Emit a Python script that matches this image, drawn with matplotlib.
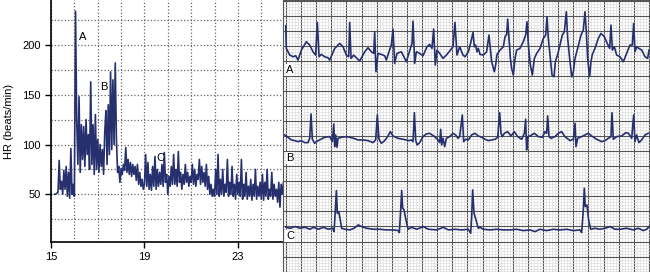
import matplotlib.pyplot as plt
import numpy as np

plt.rcParams['font.family'] = ['Liberation Sans', 'DejaVu Sans']

# heart rate trend, one sample every 0.05 h from 15.15 h
hr_start = 15.15
hr_step = 0.05
hr = [50, 50, 51, 52, 84, 55, 63, 50, 74, 55, 78, 48, 72, 46, 96, 50, 60, 48, 234, 125,
      80, 148, 72, 120, 85, 118, 78, 125, 90, 110, 75, 163, 80, 120, 70, 130, 75, 105, 72, 100,
      78, 95, 70, 112, 134, 80, 140, 90, 173, 95, 165, 100, 182, 105, 72, 78, 62, 76, 70, 80,
      74, 97, 72, 85, 70, 82, 68, 80, 70, 78, 64, 80, 60, 72, 58, 65, 55, 60, 90, 58,
      82, 55, 70, 54, 78, 58, 88, 55, 75, 58, 72, 60, 80, 58, 92, 62, 70, 50, 68, 58,
      78, 60, 90, 60, 75, 58, 93, 62, 72, 55, 70, 60, 80, 62, 72, 58, 68, 62, 80, 60,
      75, 58, 70, 65, 85, 60, 78, 62, 72, 58, 80, 55, 68, 50, 60, 48, 55, 48, 75, 50,
      90, 48, 65, 50, 75, 48, 60, 52, 85, 48, 62, 50, 78, 48, 60, 45, 70, 50, 62, 48,
      85, 45, 60, 48, 72, 45, 58, 48, 65, 44, 60, 48, 75, 45, 58, 48, 62, 45, 70, 44,
      62, 48, 75, 45, 55, 48, 72, 45, 60, 48, 55, 42, 62, 37, 60, 50, 62]

hr_xticks = [15, 19, 23]
hr_yticks = [50, 100, 150, 200]

# ECG strips: (time s, amplitude mV relative to strip baseline)
ecg_a = [(-0.004, 0.908), (0.004, 0.155), (0.049, -0.066), (0.093, -0.122), (0.128, -0.089),
         (0.159, -0.233), (0.203, 0.100), (0.269, 0.377), (0.313, 0.266), (0.357, 0.044),
         (0.392, -0.066), (0.414, 1.019), (0.437, -0.122), (0.467, -0.044), (0.511, -0.122),
         (0.556, -0.155), (0.578, -0.233), (0.644, 0.155), (0.710, 0.321), (0.754, 0.210),
         (0.798, -0.066), (0.829, -0.122), (0.842, 1.019), (0.860, -0.177), (0.895, -0.066),
         (0.930, -0.155), (0.974, -0.266), (1.041, 0.044), (1.085, 0.177), (1.129, 0.044),
         (1.160, -0.011), (1.173, 0.709), (1.190, -0.620), (1.217, -0.011), (1.261, -0.044),
         (1.305, -0.089), (1.327, -0.233), (1.362, 0.044), (1.393, 0.266), (1.415, 0.797),
         (1.437, -0.343), (1.468, -0.011), (1.526, 0.044), (1.592, -0.288), (1.645, 0.155),
         (1.667, 0.321), (1.680, 1.063), (1.702, -0.343), (1.724, 0.044), (1.768, -0.011),
         (1.812, -0.089), (1.865, 0.210), (1.900, 0.288), (1.931, 0.155), (1.953, 0.797),
         (1.975, -0.399), (1.997, 0.100), (2.033, -0.011), (2.077, -0.177), (2.121, -0.066),
         (2.165, 0.066), (2.209, 0.210), (2.235, 1.019), (2.262, -0.066), (2.297, 0.210),
         (2.341, -0.066), (2.368, -0.122), (2.412, 0.044), (2.447, 0.377), (2.474, 0.687),
         (2.491, 0.210), (2.509, 0.266), (2.526, 0.044), (2.544, 0.155), (2.566, -0.044),
         (2.610, -0.066), (2.654, 0.044), (2.685, 0.598), (2.703, 0.155), (2.720, -0.288),
         (2.756, -0.620), (2.773, -0.399), (2.791, -0.044), (2.831, 0.100), (2.875, 0.210),
         (2.897, 0.543), (2.919, 0.620), (2.932, 1.130), (2.950, 0.487), (2.968, -0.177),
         (2.985, -0.509), (3.007, -0.731), (3.029, -0.177), (3.051, 0.100), (3.095, 0.155),
         (3.139, 0.377), (3.170, 0.598), (3.188, 1.041), (3.206, 0.266), (3.232, -0.399),
         (3.258, -0.731), (3.285, -0.177), (3.316, -0.011), (3.360, 0.155), (3.404, 0.487),
         (3.435, 0.598), (3.452, 1.207), (3.470, 0.487), (3.492, -0.066), (3.519, -0.731),
         (3.545, -0.786), (3.563, -0.288), (3.594, -0.044), (3.624, 0.266), (3.655, 0.598),
         (3.682, 0.709), (3.708, 1.373), (3.726, 0.487), (3.752, -0.177), (3.779, -0.786),
         (3.801, -0.620), (3.823, -0.177), (3.858, 0.155), (3.902, 0.598), (3.933, 0.764),
         (3.955, 1.373), (3.973, 0.709), (3.990, -0.177), (4.016, -0.786), (4.034, -0.288),
         (4.052, -0.044), (4.087, 0.155), (4.131, 0.487), (4.167, 0.653), (4.211, 0.543),
         (4.255, 0.288), (4.281, 0.155), (4.299, 0.930), (4.317, 0.100), (4.343, 0.210),
         (4.374, -0.066), (4.418, -0.122), (4.462, -0.288), (4.506, -0.011), (4.550, 0.266),
         (4.581, 0.266), (4.599, 0.986), (4.616, 0.044), (4.638, 0.210), (4.669, 0.155),
         (4.705, 0.100), (4.749, -0.122), (4.784, -0.177), (4.802, 0.100)]

ecg_b = [(-0.018, 0.100), (0.026, 0.022), (0.071, -0.066), (0.115, -0.089), (0.159, -0.122),
         (0.203, -0.089), (0.247, -0.155), (0.291, -0.155), (0.313, -0.011), (0.331, 0.797),
         (0.348, -0.044), (0.379, -0.177), (0.401, -0.122), (0.445, -0.066), (0.511, 0.022),
         (0.578, 0.044), (0.613, -0.122), (0.631, 0.465), (0.644, -0.288), (0.657, 0.100),
         (0.675, -0.310), (0.688, -0.011), (0.732, 0.022), (0.798, 0.044), (0.842, 0.022),
         (0.895, -0.011), (0.952, -0.066), (1.019, -0.066), (1.085, -0.089), (1.151, -0.155),
         (1.186, -0.066), (1.208, 0.764), (1.230, -0.044), (1.261, -0.177), (1.305, -0.089),
         (1.349, 0.066), (1.380, 0.210), (1.415, 0.066), (1.481, -0.011), (1.548, -0.044),
         (1.627, -0.089), (1.658, -0.066), (1.680, -0.122), (1.698, 0.842), (1.715, -0.066),
         (1.733, -0.233), (1.768, -0.155), (1.812, 0.044), (1.856, 0.133), (1.900, 0.155),
         (1.966, 0.044), (2.011, -0.066), (2.033, -0.155), (2.046, 0.288), (2.059, -0.233),
         (2.077, -0.011), (2.099, -0.288), (2.121, -0.011), (2.165, 0.044), (2.209, 0.155),
         (2.244, 0.100), (2.275, -0.011), (2.297, 0.044), (2.332, 0.764), (2.350, -0.122),
         (2.377, -0.044), (2.412, -0.066), (2.456, 0.100), (2.500, 0.155), (2.544, 0.066),
         (2.588, 0.022), (2.632, -0.044), (2.676, -0.089), (2.720, -0.066), (2.765, -0.044),
         (2.800, 0.022), (2.817, 0.543), (2.826, 0.842), (2.844, 0.155), (2.862, 0.044),
         (2.888, 0.155), (2.932, 0.210), (2.976, 0.066), (3.020, 0.210), (3.064, 0.044),
         (3.117, -0.044), (3.153, 0.155), (3.170, 0.620), (3.183, -0.399), (3.197, 0.044),
         (3.228, 0.066), (3.285, 0.155), (3.338, 0.044), (3.391, 0.022), (3.426, 0.210),
         (3.448, 0.155), (3.461, 0.731), (3.479, 0.044), (3.505, -0.011), (3.558, 0.044),
         (3.602, 0.155), (3.646, 0.210), (3.690, 0.044), (3.757, -0.089), (3.801, -0.044),
         (3.823, 0.487), (3.836, -0.288), (3.858, -0.011), (3.911, 0.044), (3.955, 0.100),
         (3.999, 0.155), (4.043, 0.066), (4.109, -0.044), (4.176, -0.122), (4.220, -0.089),
         (4.264, -0.011), (4.299, 0.044), (4.312, 0.842), (4.330, -0.044), (4.374, 0.044),
         (4.441, 0.066), (4.494, 0.177), (4.529, 0.155), (4.573, -0.011), (4.599, 0.764),
         (4.616, -0.122), (4.638, 0.100), (4.669, -0.155), (4.705, -0.066), (4.749, 0.100),
         (4.793, 0.155)]

ecg_c = [(0.000, 0.033), (0.053, 0.000), (0.119, 0.055), (0.185, 0.000), (0.251, 0.033),
         (0.317, -0.033), (0.362, 0.033), (0.428, -0.033), (0.494, 0.033), (0.560, -0.033),
         (0.617, 0.000), (0.635, -0.111), (0.653, 0.609), (0.666, 1.251), (0.679, 0.498),
         (0.697, 0.554), (0.714, 0.332), (0.736, 0.000), (0.780, -0.033), (0.847, -0.055),
         (0.899, 0.000), (0.957, 0.111), (1.001, 0.055), (1.067, 0.000), (1.155, -0.033),
         (1.243, -0.033), (1.332, -0.055), (1.420, -0.055), (1.486, -0.078), (1.499, -0.144),
         (1.517, 0.609), (1.530, 1.251), (1.543, 0.664), (1.561, 0.609), (1.587, 0.277),
         (1.614, -0.033), (1.662, 0.033), (1.728, -0.033), (1.817, 0.055), (1.883, -0.033),
         (1.993, -0.055), (2.081, 0.033), (2.147, -0.055), (2.235, -0.033), (2.324, -0.055),
         (2.412, -0.033), (2.443, -0.166), (2.456, 0.388), (2.469, 1.274), (2.487, 0.498),
         (2.513, 0.277), (2.544, 0.000), (2.566, 0.033), (2.610, -0.033), (2.698, -0.055),
         (2.787, -0.033), (2.875, -0.055), (2.963, -0.055), (3.051, -0.033), (3.139, -0.078),
         (3.228, -0.055), (3.294, -0.111), (3.360, -0.033), (3.448, -0.078), (3.536, -0.033),
         (3.624, -0.055), (3.713, -0.033), (3.801, -0.078), (3.889, -0.055), (3.911, -0.144),
         (3.933, 0.609), (3.946, 1.329), (3.959, 0.720), (3.981, 0.775), (4.003, 0.277),
         (4.030, -0.033), (4.087, 0.000), (4.153, -0.033), (4.220, 0.000), (4.286, 0.055),
         (4.352, -0.033), (4.418, -0.033), (4.506, 0.000), (4.594, -0.055), (4.661, 0.000),
         (4.727, -0.078), (4.771, -0.033), (4.802, 0.055)]

strip_labels = ['A', 'B', 'C']

navy = '#27306e'

fig = plt.figure(figsize=(6.5, 2.72), dpi=100)

# left panel: heart rate trend
ax = fig.add_axes([51 / 650, 30 / 272, 232 / 650, 242 / 272])
hours = hr_start + hr_step * np.arange(len(hr))
ax.plot(hours, hr, color=navy, lw=1.2, zorder=3)
ax.set_xlim(15, 24.93)
ax.set_ylim(2, 245.3)
ax.set_xticks(hr_xticks)
ax.set_yticks(hr_yticks)
ax.set_xticks(np.arange(16, 25), minor=True)
ax.set_yticks(np.arange(25, 250, 25), minor=True)
ax.grid(which='both', ls=':', color='#666666', lw=0.9)
ax.tick_params(which='minor', length=0)
ax.tick_params(which='major', length=4, width=1, labelsize=8, direction='out')
for s in ['top', 'right']:
    ax.spines[s].set_visible(False)
for s in ['left', 'bottom']:
    ax.spines[s].set_linewidth(1.2)
ax.set_ylabel('HR (beats/min)', fontsize=8, labelpad=6)
ax.text(16.37, 208, 'A', fontsize=8, ha='center', va='center')
ax.text(17.27, 158, 'B', fontsize=8, ha='center', va='center')
ax.text(19.7, 86, 'C', fontsize=8, ha='center', va='center')

# right panel: ECG strips on grid paper
ax2 = fig.add_axes([283 / 650, 0, 367 / 650, 1])
ax2.set_xlim(-0.0397, 4.815)
ax2.set_ylim(-0.013, 9.023)
ax2.set_xticks(np.arange(0, 25) * 0.2)
ax2.set_yticks(np.arange(0, 19) * 0.5)
ax2.set_xticks(np.arange(-1, 121) * 0.04, minor=True)
ax2.set_yticks(np.arange(0, 91) * 0.1, minor=True)
ax2.grid(which='minor', color='#dadada', lw=0.45)
ax2.grid(which='major', color='#555555', lw=0.8)
ax2.tick_params(which='both', length=0, labelbottom=False, labelleft=False)
for s in ax2.spines.values():
    s.set_color('#555555')
ax2.set_axisbelow(True)

baselines = [7.26, 4.44, 1.44]
label_y = [6.70, 3.77, 1.18]
for strip, base, name, ly in zip([ecg_a, ecg_b, ecg_c], baselines, strip_labels, label_y):
    arr = np.array(strip)
    ax2.plot(arr[:, 0], base + arr[:, 1], color=navy, lw=1.2)
    ax2.text(0.053, ly, name, fontsize=8, ha='center', va='center',
             bbox=dict(facecolor='white', edgecolor='none', pad=0.5))

fig.savefig('out.png', dpi=100)
